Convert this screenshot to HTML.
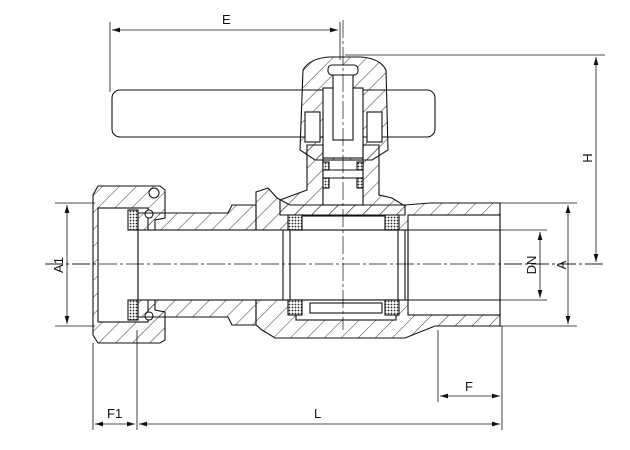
<!DOCTYPE html>
<html><head><meta charset="utf-8"><style>html,body{margin:0;padding:0;background:#fff}svg{display:block}text{font-family:"Liberation Sans",sans-serif;font-size:13px;fill:#111}</style></head>
<body>
<svg width="630" height="450" viewBox="0 0 630 450" xmlns="http://www.w3.org/2000/svg">
<defs>
<pattern id="h" width="12" height="12" patternUnits="userSpaceOnUse" patternTransform="rotate(45)"><line x1="0" y1="0" x2="0" y2="12" stroke="#222" stroke-width="0.9"/></pattern>
<pattern id="x" width="3" height="3" patternUnits="userSpaceOnUse"><rect width="3" height="3" fill="#fff"/><circle cx="1.5" cy="1.5" r="0.9" fill="#222"/></pattern>
<marker id="a" markerWidth="10" markerHeight="6" refX="10" refY="3" orient="auto-start-reverse"><path d="M0,0 L10,3 L0,6Z" fill="#111"/></marker>
</defs>
<g fill="none" stroke="#111" stroke-width="1.1">
<line x1="45" y1="264" x2="605" y2="264" stroke-dasharray="18,3,3,3" stroke-width="0.7"/>
<!-- handle -->
<rect x="112" y="90" width="323" height="47" rx="8" fill="#fff"/>
<!-- head -->
<path d="M303,70 Q310,58 330,57 L360,57 Q380,58 386,70 L388,150 L372,160 L315,160 L300,150 Z" fill="url(#h)"/>
<rect x="323" y="88" width="40" height="70" fill="#fff"/>
<rect x="333" y="70" width="20" height="70" fill="#fff"/>
<rect x="328" y="65" width="30" height="10" rx="4" fill="#fff"/>
<rect x="305" y="112" width="15" height="30" fill="#fff"/><rect x="367" y="112" width="15" height="30" fill="#fff"/>
<!-- bonnet -->
<path d="M307,145 L323,145 L323,200 L363,200 L363,145 L379,145 L379,195 L392,198 L405,206 L405,215 L280,215 L280,200 L307,190 Z" fill="url(#h)"/>
<rect x="323" y="160" width="40" height="45" fill="#fff"/>
<rect x="323" y="162" width="6" height="8" fill="url(#x)"/><rect x="357" y="162" width="6" height="8" fill="url(#x)"/>
<rect x="323" y="178" width="6" height="10" fill="url(#x)"/><rect x="357" y="178" width="6" height="10" fill="url(#x)"/>
<line x1="323" y1="170" x2="363" y2="170"/><line x1="323" y1="178" x2="363" y2="178"/>
<!-- nut -->
<path d="M98,186 L160,186 L165,190 L165,218 L155,220 L155,310 L165,312 L165,340 L160,343 L98,343 L93,335 L93,195 Z" fill="url(#h)"/>
<rect x="98" y="208" width="50" height="114" fill="#fff"/>
<rect x="128" y="210" width="10" height="20" fill="url(#x)"/><rect x="128" y="300" width="10" height="20" fill="url(#x)"/>
<circle cx="149" cy="214" r="4" fill="#fff"/><circle cx="149" cy="316" r="4" fill="#fff"/>
<circle cx="154" cy="193" r="5"/>
<!-- left pipe -->
<path d="M138,213 L228,213 L232,205 L256,205 L256,325 L232,325 L228,317 L138,317 Z" fill="url(#h)"/>
<!-- center body -->
<path d="M256,205 L256,192 L268,188 L277,198 L290,205 L405,205 L430,203 L500,203 L500,326 L435,326 L405,338 L275,338 L262,330 L256,325 Z" fill="url(#h)"/>
<rect x="138" y="230" width="362" height="70" fill="#fff"/>
<rect x="296" y="216" width="100" height="14" fill="#fff"/>
<rect x="296" y="300" width="100" height="20" fill="#fff"/>
<rect x="310" y="303" width="72" height="10" fill="#fff"/>
<rect x="408" y="215" width="92" height="100" fill="#fff"/>
<line x1="408" y1="215" x2="500" y2="215"/><line x1="408" y1="315" x2="500" y2="315"/>
<rect x="288" y="215" width="14" height="15" fill="url(#x)"/><rect x="288" y="300" width="14" height="15" fill="url(#x)"/>
<rect x="385" y="215" width="14" height="15" fill="url(#x)"/><rect x="385" y="300" width="14" height="15" fill="url(#x)"/>
<line x1="138" y1="230" x2="500" y2="230"/><line x1="138" y1="300" x2="500" y2="300"/>
<line x1="283" y1="230" x2="283" y2="300"/><line x1="290" y1="230" x2="290" y2="300"/>
<line x1="398" y1="230" x2="398" y2="300"/><line x1="405" y1="230" x2="405" y2="300"/>
<line x1="408" y1="230" x2="408" y2="300"/>
<line x1="45" y1="264" x2="605" y2="264" stroke-dasharray="18,3,3,3" stroke-width="0.7"/>
<line x1="343" y1="20" x2="343" y2="330" stroke-dasharray="18,3,3,3" stroke-width="0.7"/>
<!-- dimensions -->
<line x1="110" y1="22" x2="110" y2="92" stroke-width="0.8"/>
<line x1="340" y1="22" x2="340" y2="60" stroke-width="0.8"/>
<line x1="112" y1="30" x2="338" y2="30" marker-start="url(#a)" marker-end="url(#a)" stroke-width="0.8"/>
<line x1="345" y1="55" x2="605" y2="55" stroke-width="0.8"/>
<line x1="596" y1="57" x2="596" y2="262" marker-start="url(#a)" marker-end="url(#a)" stroke-width="0.8"/>
<line x1="500" y1="203" x2="577" y2="203" stroke-width="0.8"/>
<line x1="500" y1="326" x2="577" y2="326" stroke-width="0.8"/>
<line x1="568" y1="205" x2="568" y2="324" marker-start="url(#a)" marker-end="url(#a)" stroke-width="0.8"/>
<line x1="500" y1="230" x2="547" y2="230" stroke-width="0.8"/>
<line x1="500" y1="300" x2="547" y2="300" stroke-width="0.8"/>
<line x1="540" y1="232" x2="540" y2="298" marker-start="url(#a)" marker-end="url(#a)" stroke-width="0.8"/>
<line x1="55" y1="203" x2="95" y2="203" stroke-width="0.8"/>
<line x1="55" y1="326" x2="95" y2="326" stroke-width="0.8"/>
<line x1="67" y1="205" x2="67" y2="324" marker-start="url(#a)" marker-end="url(#a)" stroke-width="0.8"/>
<line x1="93" y1="343" x2="93" y2="430" stroke-width="0.8"/>
<line x1="137" y1="330" x2="137" y2="430" stroke-width="0.8"/>
<line x1="438" y1="330" x2="438" y2="402" stroke-width="0.8"/>
<line x1="502" y1="326" x2="502" y2="430" stroke-width="0.8"/>
<line x1="440" y1="396" x2="500" y2="396" marker-start="url(#a)" marker-end="url(#a)" stroke-width="0.8"/>
<line x1="95" y1="424" x2="135" y2="424" marker-start="url(#a)" marker-end="url(#a)" stroke-width="0.8"/>
<line x1="139" y1="424" x2="500" y2="424" marker-start="url(#a)" marker-end="url(#a)" stroke-width="0.8"/>
</g>
<text x="222" y="24">E</text>
<text x="465" y="391">F</text>
<text x="107" y="418">F1</text>
<text x="314" y="418">L</text>
<text transform="translate(592,158) rotate(-90)" text-anchor="middle">H</text>
<text transform="translate(566,265) rotate(-90)" text-anchor="middle">A</text>
<text transform="translate(536,265) rotate(-90)" text-anchor="middle">DN</text>
<text transform="translate(63,265) rotate(-90)" text-anchor="middle">A1</text>
</svg>
</body></html>
